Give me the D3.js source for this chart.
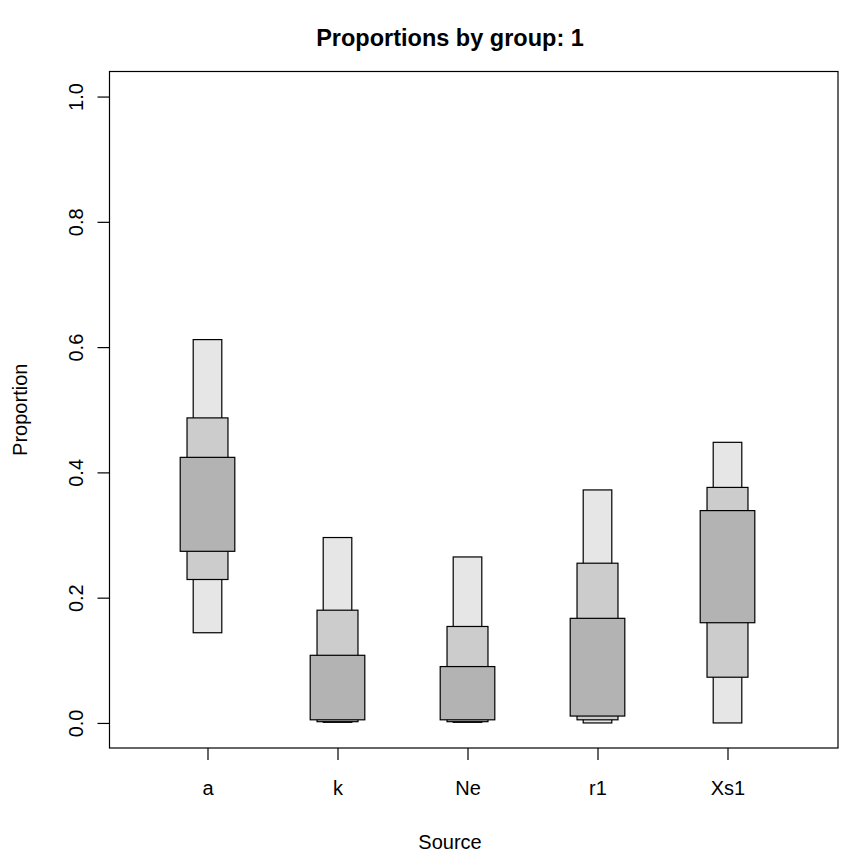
<!DOCTYPE html>
<html>
<head>
<meta charset="utf-8">
<script src="https://cdn.jsdelivr.net/npm/d3@7"></script>
<style>
  body { margin: 0; background: #fff; }
  text { font-family: "Liberation Sans", Arial, sans-serif; }
</style>
</head>
<body>
<div id="plot"></div>
<script>
// data
var categories = ["a", "k", "Ne", "r1", "Xs1"];
var outerLow  = [0.144, 0.001, 0.001, 0.000, 0.000];
var outerHigh = [0.612, 0.296, 0.265, 0.372, 0.448];
var midLow    = [0.229, 0.002, 0.002, 0.005, 0.073];
var midHigh   = [0.487, 0.180, 0.154, 0.255, 0.376];
var innerLow  = [0.274, 0.005, 0.005, 0.011, 0.160];
var innerHigh = [0.424, 0.108, 0.090, 0.167, 0.339];
var yTicks = [0, 0.2, 0.4, 0.6, 0.8, 1.0];

// plot region
var margin = {top: 71.5, right: 12, bottom: 105, left: 109.5},
    width = 850 - margin.left - margin.right,
    height = 853 - margin.top - margin.bottom;

var svg = d3.select("#plot")
  .append("svg")
    .attr("width", 850)
    .attr("height", 853);

var g = svg.append("g")
    .attr("transform", "translate(" + margin.left + "," + margin.top + ")");

var xScale = d3.scalePoint().domain(categories).range([98, 618]);
var yScale = d3.scaleLinear().domain([-0.04, 1.04]).range([height, 0]);
var step = xScale.step();

// bands: widest range drawn first
var bands = [
  {lo: outerLow, hi: outerHigh, w: 0.22, fill: "#e6e6e6"},
  {lo: midLow, hi: midHigh, w: 0.315, fill: "#cccccc"},
  {lo: innerLow, hi: innerHigh, w: 0.42, fill: "#b3b3b3"}
];

bands.forEach(function(b) {
  g.append("g")
    .selectAll("rect")
    .data(categories)
    .enter()
    .append("rect")
      .attr("x", function(d) { return xScale(d) - b.w * step / 2; })
      .attr("y", function(d, i) { return yScale(b.hi[i]); })
      .attr("width", b.w * step)
      .attr("height", function(d, i) { return Math.max(0.5, yScale(b.lo[i]) - yScale(b.hi[i])); })
      .attr("fill", b.fill)
      .attr("stroke", "#000")
      .attr("stroke-width", 1.2);
});

// axes
var yAxis = g.append("g")
  .call(d3.axisLeft(yScale).tickValues(yTicks).tickFormat(d3.format(".1f")).tickSize(12).tickSizeOuter(0));
yAxis.select(".domain").attr("d", "M0," + yScale(0) + "V" + yScale(1));
yAxis.selectAll(".tick text")
  .attr("font-size", 20)
  .attr("transform", "rotate(-90)")
  .attr("x", 0)
  .attr("y", -27)
  .attr("dy", 0)
  .attr("text-anchor", "middle");

var xAxis = g.append("g")
  .attr("transform", "translate(0," + height + ")")
  .call(d3.axisBottom(xScale).tickSize(12).tickSizeOuter(0));
xAxis.select(".domain").remove();
xAxis.selectAll(".tick text")
  .attr("font-size", 20)
  .attr("y", 47)
  .attr("dy", 0);
g.selectAll(".tick text").attr("fill", "#000").style("font-family", "'Liberation Sans', Arial, sans-serif");
g.selectAll(".tick line").attr("stroke-width", 1.2);

// frame
g.append("rect")
  .attr("width", width)
  .attr("height", height)
  .attr("fill", "none")
  .attr("stroke", "#000")
  .attr("stroke-width", 1.2);

// labels
svg.append("text")
  .attr("x", 450)
  .attr("y", 46)
  .attr("text-anchor", "middle")
  .attr("font-size", 23.5)
  .attr("font-weight", "bold")
  .text("Proportions by group: 1");

svg.append("text")
  .attr("x", 450)
  .attr("y", 849)
  .attr("text-anchor", "middle")
  .attr("font-size", 20)
  .text("Source");

svg.append("text")
  .attr("transform", "translate(27," + (margin.top + height / 2) + ") rotate(-90)")
  .attr("text-anchor", "middle")
  .attr("font-size", 20)
  .text("Proportion");
</script>
</body>
</html>
